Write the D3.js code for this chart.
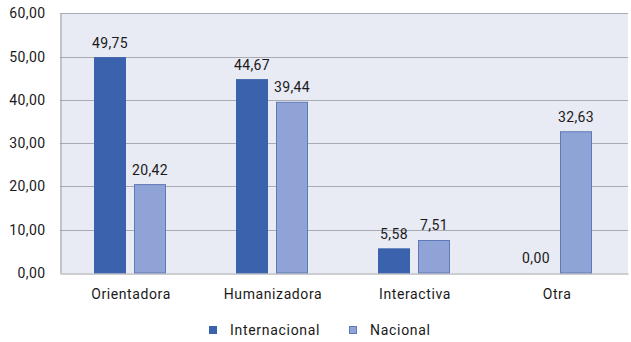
<!DOCTYPE html>
<html><head><meta charset="utf-8">
<script src="https://cdn.jsdelivr.net/npm/d3@7"></script>
<style>body{margin:0;background:#fff}text{font-family:Roboto,"DejaVu Sans",sans-serif;fill:#1a1a1a;font-weight:400}</style>
</head><body><svg id="c" width="631" height="342"></svg>
<script>
const categories = ["Orientadora","Humanizadora","Interactiva","Otra"];
const seriesNames = ["Internacional","Nacional"];
const internacional = [49.75,44.67,5.58,0.00];
const nacional = [20.42,39.44,7.51,32.63];
const yTicks = [0,10,20,30,40,50,60];
const colors = ["#3b62ad","#8fa3d6"];
const strokes = ["#3b62ad","#5f78b8"];

const svg = d3.select("#c");
const m = {l:60,r:3,t:13.3,b:69};
const W = 631, H = 342;
const x = d3.scaleBand().domain(categories).range([m.l, W-m.r]);
const y = d3.scaleLinear().domain([0,60]).range([273, m.t]);
const fmt = v => d3.format(".2f")(v).replace(".",",");

svg.append("rect").attr("x",m.l).attr("y",y(60)).attr("width",W-m.r-m.l).attr("height",y(0)-y(60)).attr("fill","#e8eaf4");
svg.append("g").selectAll("line").data(yTicks.filter(d=>d>0)).join("line")
  .attr("x1",m.l).attr("x2",W-m.r).attr("y1",d=>Math.round(y(d))+0.5).attr("y2",d=>Math.round(y(d))+0.5)
  .attr("stroke","#a9abb2").attr("stroke-width",1);

const yAxis = d3.axisLeft(y).tickValues(yTicks).tickFormat(fmt).tickSize(0).tickPadding(15);
const ga = svg.append("g").attr("transform",`translate(${m.l+0.5},0)`).call(yAxis);
ga.select(".domain").attr("stroke","#9a9ca6");
ga.selectAll("text").attr("font-size",14).attr("letter-spacing","0.4px").style("font-family","Roboto");

const bw = 32, gap = 8;
const data = categories.map((c,i)=>({c, vals:[internacional[i],nacional[i]]}));
const g = svg.append("g");
data.forEach(d=>{
  const cx = x(d.c) + x.bandwidth()/2 - 1;
  d.vals.forEach((v,j)=>{
    const bx = j===0 ? cx - gap/2 - bw : cx + gap/2;
    if (v>0) g.append("rect").attr("x",bx+0.5).attr("y",y(v)).attr("width",bw-1).attr("height",y(0)-y(v))
      .attr("fill",colors[j]).attr("stroke",strokes[j]).attr("stroke-width",1);
    g.append("text").attr("x",bx+bw/2).attr("y",y(v)-10).attr("text-anchor","middle")
      .attr("font-size",14).attr("letter-spacing","0.4px").text(fmt(v));
  });
});

const xAxis = d3.axisBottom(x).tickSize(0).tickPadding(16);
const gx = svg.append("g").attr("transform",`translate(0,${273.5})`).call(xAxis);
gx.select(".domain").attr("stroke","#9a9ca6");
gx.selectAll("text").attr("font-size",14).attr("letter-spacing","0.6px").style("font-family","Roboto");

const lg = svg.append("g");
const lx = [209,349];
seriesNames.forEach((s,i)=>{
  lg.append("rect").attr("x",lx[i]+0.5).attr("y",326.5).attr("width",7).attr("height",7).attr("fill",colors[i]).attr("stroke",strokes[i]);
  lg.append("text").attr("x",lx[i]+21).attr("y",335).attr("font-size",14).attr("letter-spacing","0.7px").text(s);
});
</script></body></html>
